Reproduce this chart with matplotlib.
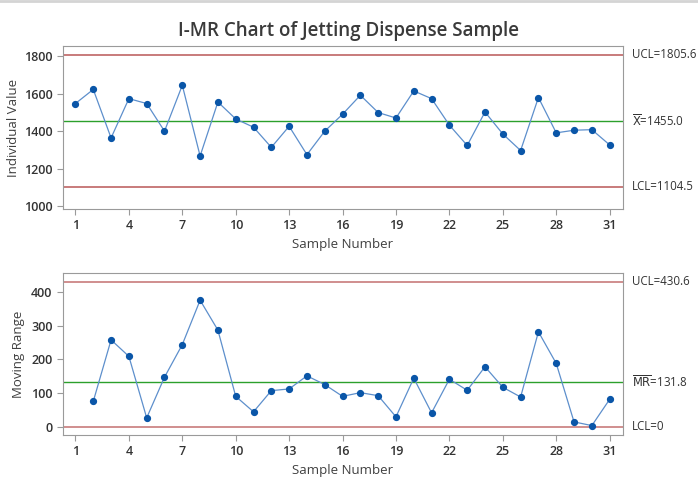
import numpy as np
import matplotlib
matplotlib.use('Agg')
import matplotlib.pyplot as plt
from matplotlib.lines import Line2D

plt.rcParams['font.family'] = ['Open Sans', 'DejaVu Sans']

# Individual values
sample = np.arange(1, 32)
values = [1547, 1622, 1364, 1573, 1547, 1400, 1644, 1268, 1555, 1465,
          1421, 1314, 1426, 1275, 1400, 1490, 1591, 1499, 1470, 1614,
          1573, 1432, 1324, 1502, 1385, 1297, 1579, 1391, 1405, 1408, 1327]

# control limits as printed on the chart
i_ucl, i_cl, i_lcl = 1805.6, 1455.0, 1104.5
mr_ucl, mr_cl, mr_lcl = 430.6, 131.8, 0

xticks = [1, 4, 7, 10, 13, 16, 19, 22, 25, 28, 31]

# moving range of consecutive samples
mr = np.abs(np.diff(values))

fig = plt.figure(figsize=(6.98, 4.78), dpi=100)
ax1 = fig.add_axes([63 / 698, 1 - 209 / 478, 560 / 698, 163 / 478])
ax2 = fig.add_axes([63 / 698, 1 - 435 / 478, 560 / 698, 162 / 478])

edge = '#9a9a9a'
txt = '#333333'
lab = '#404040'
red = '#c87b7b'
green = '#2ca02c'
pt = '#0a56a8'
ln = '#5d8fcc'

# thin grey frame line along the top of the image
fig.add_artist(Line2D([0, 1], [1 - 1 / 478, 1 - 1 / 478], color='#d4d4d4', lw=2,
                      transform=fig.transFigure))


def style(ax, yticks, ylab_x):
    for s in ax.spines.values():
        s.set_color(edge)
    ax.tick_params(colors=edge, labelcolor=txt, labelsize=9, length=4)
    ax.set_xticks(xticks)
    ax.set_xlim(0.3, 31.75)
    ax.set_yticks(yticks)
    ax.set_xticklabels([str(t) for t in xticks], fontweight='semibold')
    ax.set_yticklabels([str(t) for t in yticks], fontweight='semibold')
    ax.xaxis.set_label_coords(0.5, -0.18)
    ax.yaxis.set_label_coords(ylab_x, 0.5)


def limit_label(ax, y, s):
    ax.text(1.016, y, s, transform=ax.get_yaxis_transform(),
            va='center', fontsize=8.3, color=txt)


# I chart
ax1.axhline(i_ucl, color=red, lw=1.4)
ax1.axhline(i_lcl, color=red, lw=1.4)
ax1.axhline(i_cl, color=green, lw=1.0)
ax1.plot(sample, values, color=ln, lw=0.9, marker='o', ms=4.2,
         mfc=pt, mec=pt)
ax1.set_ylim(986, 1853)
style(ax1, [1000, 1200, 1400, 1600, 1800], -0.077)
ax1.set_ylabel('Individual Value', fontsize=9.5, color=lab)
ax1.set_xlabel('Sample Number', fontsize=9.5, color=lab)
limit_label(ax1, i_ucl, 'UCL=%.1f' % i_ucl)
limit_label(ax1, i_cl, r'$\overline{\mathrm{X}}$=%.1f' % i_cl)
limit_label(ax1, i_lcl, 'LCL=%.1f' % i_lcl)

# MR chart
ax2.axhline(mr_ucl, color=red, lw=1.2)
ax2.axhline(mr_lcl, color=red, lw=1.2)
ax2.axhline(mr_cl, color=green, lw=1.0)
ax2.plot(sample[1:], mr, color=ln, lw=0.9, marker='o', ms=4.2,
         mfc=pt, mec=pt)
ax2.set_ylim(-25, 457)
style(ax2, [0, 100, 200, 300, 400], -0.068)
ax2.set_ylabel('Moving Range', fontsize=9.5, color=lab)
ax2.set_xlabel('Sample Number', fontsize=9.5, color=lab)
limit_label(ax2, mr_ucl, 'UCL=%.1f' % mr_ucl)
limit_label(ax2, mr_cl, r'$\overline{\mathrm{MR}}$=%.1f' % mr_cl)
limit_label(ax2, mr_lcl, 'LCL=%d' % mr_lcl)

fig.text(0.5, 1 - 31 / 478, 'I-MR Chart of Jetting Dispense Sample', ha='center',
         va='center', fontsize=13.5, color='#3a3a3a', fontweight='semibold')

fig.savefig('out.png', dpi=100)
